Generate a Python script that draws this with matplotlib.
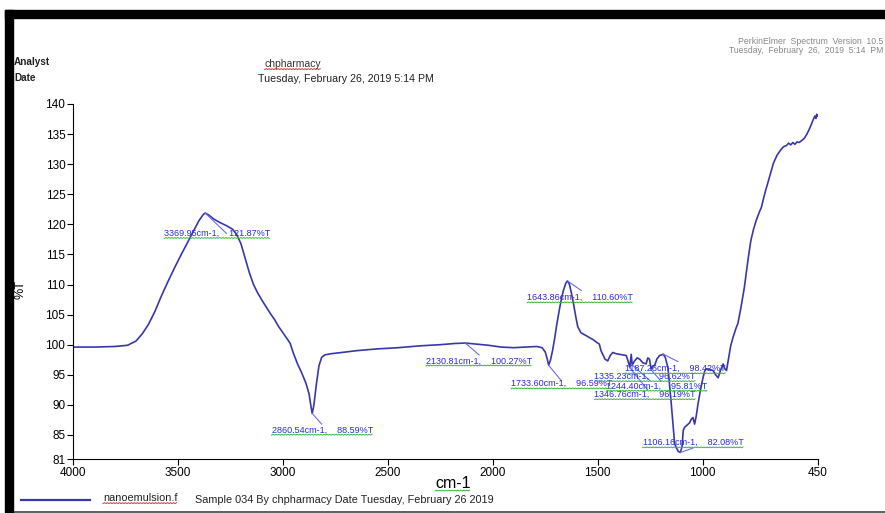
import numpy as np
import matplotlib
matplotlib.use("Agg")
import matplotlib.pyplot as plt
from matplotlib.patches import Rectangle
from matplotlib.lines import Line2D

plt.rcParams['font.family'] = ['Liberation Sans', 'DejaVu Sans']

# spectrum (wavenumber cm-1, %T)
wavenumber = [4000, 3900, 3800, 3740, 3700, 3670, 3640, 3610, 3580, 3550, 3520, 3490, 3460,
              3430, 3400, 3380, 3370, 3355, 3330, 3300, 3270, 3240, 3220, 3200, 3180, 3160,
              3140, 3120, 3100, 3080, 3060, 3040, 3020, 3000, 2980, 2965, 2950, 2930, 2910,
              2890, 2875, 2865, 2860, 2852, 2840, 2828, 2815, 2800, 2770, 2720, 2650, 2550,
              2450, 2350, 2250, 2180, 2130, 2080, 2020, 1960, 1900, 1840, 1790, 1765, 1750,
              1740, 1733.6, 1725, 1715, 1705, 1695, 1680, 1665, 1652, 1643.86, 1635, 1625,
              1615, 1605, 1595, 1580, 1560, 1539, 1520, 1505, 1492, 1484, 1476, 1465, 1452,
              1440, 1428, 1412, 1396, 1380, 1364, 1355, 1346.76, 1340, 1335.23, 1324, 1312,
              1300, 1285, 1269, 1261, 1253, 1244.4, 1236, 1229, 1218, 1205, 1195, 1187.26,
              1178, 1165, 1149, 1133, 1117, 1106.16, 1098, 1092, 1085, 1075, 1062, 1054,
              1046, 1038, 1030, 1022, 1010, 998, 990, 982, 966, 950, 938, 926, 914, 902, 894,
              886, 876, 866, 855, 840, 832, 818, 801, 790, 784, 770, 757, 744, 730, 720, 703,
              686, 674, 662, 645, 629, 614, 600, 590, 580, 570, 560, 550, 540, 525, 515, 503,
              493, 483, 474, 465, 460, 456, 452]
transmittance = [99.6, 99.6, 99.7, 99.9, 100.6, 101.8, 103.4, 105.5, 108.0, 110.3, 112.5, 114.6,
                 116.6, 118.6, 120.6, 121.6, 121.87, 121.6, 120.9, 120.3, 119.8, 119.2, 118.3,
                 116.8, 114.4, 112.0, 110.0, 108.6, 107.4, 106.3, 105.2, 104.2, 103.0, 102.0,
                 101.0, 100.2, 98.6, 96.8, 95.3, 93.6, 91.8, 89.5, 88.59, 90.0, 93.5, 96.5, 97.9,
                 98.3, 98.5, 98.7, 99.0, 99.3, 99.5, 99.8, 100.0, 100.2, 100.27, 100.1, 99.9,
                 99.6, 99.5, 99.6, 99.7, 99.5, 98.8, 97.6, 96.59, 97.4, 99.0, 101.0, 103.3, 106.3,
                 108.8, 110.2, 110.60, 110.1, 108.6, 106.8, 104.8, 103.0, 102.0, 101.6, 101.2,
                 100.8, 100.4, 100.1, 99.0, 98.4, 97.6, 97.3, 98.2, 98.7, 98.5, 98.4, 98.3, 98.2,
                 97.3, 96.19, 98.4, 96.62, 97.3, 97.8, 97.6, 97.0, 96.8, 97.8, 97.6, 95.81, 96.5,
                 96.5, 97.6, 98.2, 98.3, 98.42, 97.9, 96.2, 90.1, 83.5, 82.3, 82.08, 83.0, 85.8,
                 86.3, 86.6, 87.0, 87.6, 87.9, 86.8, 88.2, 90.1, 92.5, 94.5, 95.6, 96.0, 95.9,
                 95.7, 95.0, 94.5, 95.8, 96.8, 96.0, 95.7, 97.8, 99.8, 101.2, 102.8, 103.5, 106.0,
                 109.5, 112.5, 114.0, 117.3, 119.2, 120.7, 122.0, 122.8, 125.2, 127.3, 128.8,
                 130.2, 131.5, 132.3, 132.9, 133.1, 133.5, 133.2, 133.6, 133.3, 133.7, 133.6,
                 134.0, 134.3, 135.0, 135.7, 136.5, 137.3, 138.0, 137.6, 138.3, 138.0]

# peak labels: (wavenumber, %T, label x, label y, leader end x, leader end y)
peak_wn = [3369.95, 2860.54, 2130.81, 1733.60, 1643.86, 1187.26, 1335.23, 1244.40, 1346.76, 1106.16]
peak_t = [121.87, 88.59, 100.27, 96.59, 110.60, 98.42, 96.62, 95.81, 96.19, 82.08]
label_x = [3565, 3054, 2318, 1912, 1836, 1372, 1515, 1458, 1515, 1286]
label_y = [118.5, 85.8, 97.3, 93.5, 107.8, 96.0, 94.7, 93.1, 91.7, 83.7]
lead_x = [3269, 2815, 2065, 1673, 1578, 1118, 1250, 1200, 1262, 1047]
lead_y = [118.5, 86.8, 98.3, 94.0, 109.0, 97.2, 94.0, 94.0, 92.5, 82.8]

xticks = [4000, 3500, 3000, 2500, 2000, 1500, 1000, 450]
yticks = [81, 85, 90, 95, 100, 105, 110, 115, 120, 125, 130, 135, 140]

W, H = 885, 513
fig = plt.figure(figsize=(W / 100, H / 100), dpi=100)
ax = fig.add_axes([73 / W, 1 - 459 / H, (818 - 73) / W, (459 - 104) / H])

line_col = '#3838aa'
ax.plot(wavenumber, transmittance, color=line_col, lw=1.2)

texts_green = []
for i in range(len(peak_wn)):
    ax.plot([peak_wn[i], lead_x[i]], [peak_t[i], lead_y[i]], color='#6a6aff', lw=0.8)
    t = ax.text(label_x[i], label_y[i], f"{peak_wn[i]:.2f}cm-1,    {peak_t[i]:.2f}%T",
                fontsize=6.5, color='#2a2ae0', va='center', ha='left')
    texts_green.append(t)

ax.set_xlim(4000, 450)
ax.set_ylim(81, 140)
ax.set_xticks(xticks)
ax.set_yticks(yticks)
ax.tick_params(direction='out', length=4, width=0.8, labelsize=8.5, pad=1.5)
for s in ['top', 'right']:
    ax.spines[s].set_visible(False)
for s in ['left', 'bottom']:
    ax.spines[s].set_linewidth(0.8)

xl = fig.text(453 / W, 1 - 483 / H, "cm-1", fontsize=11.5, ha='center', va='center')
fig.text(21 / W, 1 - 290 / H, "%T", fontsize=9, rotation=90, ha='center', va='center')

# header
fig.text(14 / W, 1 - 62 / H, "Analyst", fontsize=7.2, fontweight='bold', va='center', color='#222222')
fig.text(14 / W, 1 - 78 / H, "Date", fontsize=7.2, fontweight='bold', va='center', color='#222222')
h1 = fig.text(293 / W, 1 - 64 / H, "chpharmacy", fontsize=7.5, ha='center', va='center', color='#333333')
fig.text(258 / W, 1 - 79 / H, "Tuesday, February 26, 2019 5:14 PM", fontsize=7.7, va='center', color='#222222')
fig.text(883 / W, 1 - 41 / H, "PerkinElmer  Spectrum  Version  10.5", fontsize=6.2, ha='right',
         va='center', color='#888888')
fig.text(883 / W, 1 - 51 / H, "Tuesday,  February  26,  2019  5:14  PM", fontsize=6.2, ha='right',
         va='center', color='#888888')

# legend
fig.add_artist(Line2D([21 / W, 90 / W], [1 - 500 / H, 1 - 500 / H], color=line_col, lw=1.6))
lg1 = fig.text(103 / W, 1 - 498 / H, "nanoemulsion.f", fontsize=7.8, va='center', color='#222222')
fig.text(195 / W, 1 - 500 / H, "Sample 034 By chpharmacy Date Tuesday, February 26 2019",
         fontsize=7.8, va='center', color='#222222')

# frame around the page
fig.patches.append(Rectangle((5 / W, 1 - 18 / H), 1, 8 / H, transform=fig.transFigure,
                             color='black', zorder=5))
fig.patches.append(Rectangle((5 / W, 0), 8 / W, 1 - 10 / H, transform=fig.transFigure,
                             color='black', zorder=5))
fig.add_artist(Line2D([13 / W, 1], [1.5 / H, 1.5 / H], color='#444444', lw=1.2))

# spell-check squiggles under the texts
fig.canvas.draw()
r = fig.canvas.get_renderer()


def squiggle(txt, color):
    bb = txt.get_window_extent(r)
    xs = np.arange(bb.x0, bb.x1, 1.5)
    ys = bb.y0 - 0.5 + 0.8 * (np.arange(len(xs)) % 2)
    fig.add_artist(Line2D(xs / W, ys / H, color=color, lw=0.7))


for t in texts_green:
    squiggle(t, '#3cb43c')
squiggle(xl, '#3cb43c')
squiggle(h1, '#d03030')
squiggle(lg1, '#d03030')

fig.savefig("out.png", dpi=100)
